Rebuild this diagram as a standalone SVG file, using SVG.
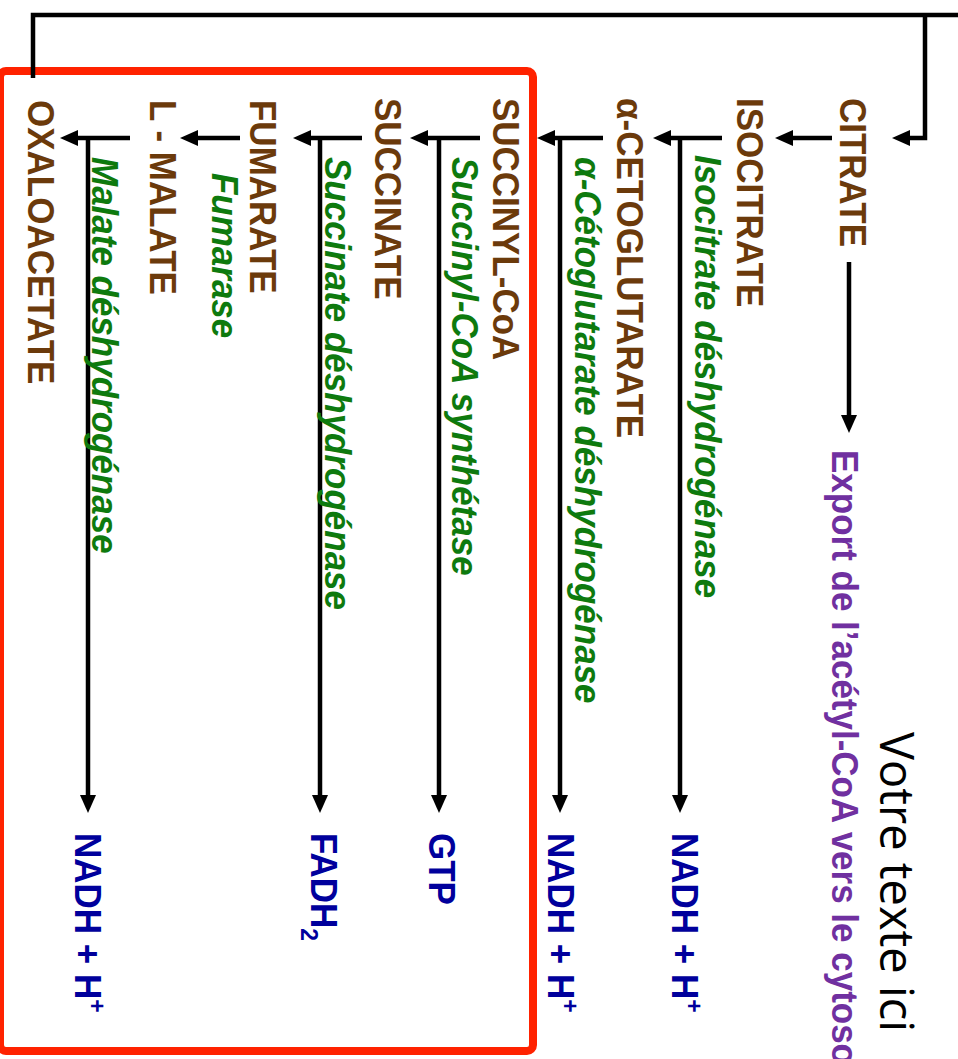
<svg xmlns="http://www.w3.org/2000/svg" width="958" height="1059" viewBox="0 0 958 1059">
<defs>
<style>
text{font-family:"Liberation Sans",Arial,sans-serif;font-weight:bold;font-size:35px}
.met{fill:#6B3A0B}
.enz{fill:#0E7A0E;font-style:italic}
.prod{fill:#00009C}
.exp{fill:#7030A0}
.note{fill:#000;font-family:"Open Sans","Noto Sans",sans-serif;font-weight:normal;font-size:47px}
.ln{fill:none;stroke:#000;stroke-width:4.5}
.arr{fill:none;stroke:#000;stroke-width:4.5;marker-end:url(#ah)}
</style>
<marker id="ah" markerUnits="userSpaceOnUse" markerWidth="18" markerHeight="18" refX="8" refY="8" orient="auto" viewBox="0 0 18 16">
<path d="M0,0 L18,8 L0,16 z" fill="#000"/>
</marker>
</defs>
<rect x="0" y="0" width="958" height="1059" fill="#fff"/>
<g id="frame">
<rect x="0" y="71" width="533" height="980" rx="6" fill="none" stroke="#FF2200" stroke-width="8"/>
</g>
<g id="connectors">
<path class="ln" d="M33,78 V15 H960"/>
<path class="arr" d="M925,15 V138 H902"/>
<path class="arr" d="M832,138 H785"/>
<path class="arr" d="M849,262 V423"/>
<path class="arr" d="M722,138 H663"/>
<path class="arr" d="M680,138 V803"/>
<path class="arr" d="M603,138 H547"/>
<path class="arr" d="M560,138 V803"/>
<path class="arr" d="M480,138 H420"/>
<path class="arr" d="M439,138 V803"/>
<path class="arr" d="M362,138 H303"/>
<path class="arr" d="M320,138 V803"/>
<path class="arr" d="M240,138 H190"/>
<path class="arr" d="M130,138 H70"/>
<path class="arr" d="M88,138 V803"/>
</g>
<g id="citrate"><text class="met" transform="translate(840 98) rotate(90) scale(1 1.08)">CITRATE</text></g>
<g id="export"><text class="exp" transform="translate(832 450) rotate(90) scale(1 1.06)">Export de l’acétyl-CoA vers le cytosol</text></g>
<g id="note"><text class="note" transform="translate(880 732) rotate(90)">Votre texte ici</text></g>
<g id="isocitrate"><text class="met" transform="translate(737 98) rotate(90) scale(1 1.08)">ISOCITRATE</text></g>
<g id="enz-isocitrate"><text class="enz" transform="translate(695 155) rotate(90) scale(1 1.06)">Isocitrate déshydrogénase</text></g>
<g id="nadh1"><text class="prod" transform="translate(672 833) rotate(90) scale(1 1.06)">NADH + H<tspan font-size="23" dy="-13">+</tspan></text></g>
<g id="cetoglutarate"><text class="met" transform="translate(617 98) rotate(90) scale(1 1.08)">α-CETOGLUTARATE</text></g>
<g id="enz-cetoglutarate"><text class="enz" transform="translate(575 157) rotate(90) scale(1 1.06)">α-Cétoglutarate déshydrogénase</text></g>
<g id="nadh2"><text class="prod" transform="translate(548 833) rotate(90) scale(1 1.06)">NADH + H<tspan font-size="23" dy="-13">+</tspan></text></g>
<g id="succinylcoa"><text class="met" transform="translate(493 98) rotate(90) scale(1 1.08)">SUCCINYL-CoA</text></g>
<g id="enz-succinylcoa"><text class="enz" transform="translate(452 157) rotate(90) scale(1 1.06)">Succinyl-CoA synthétase</text></g>
<g id="gtp"><text class="prod" transform="translate(429 833) rotate(90) scale(1 1.06)">GTP</text></g>
<g id="succinate"><text class="met" transform="translate(375 98) rotate(90) scale(1 1.08)">SUCCINATE</text></g>
<g id="enz-succinate"><text class="enz" transform="translate(325 157) rotate(90) scale(1 1.06)">Succinate déshydrogénase</text></g>
<g id="fadh2"><text class="prod" transform="translate(311 833) rotate(90) scale(1 1.06)">FADH<tspan font-size="23" dy="9">2</tspan></text></g>
<g id="fumarate"><text class="met" transform="translate(250 100) rotate(90) scale(1 1.08)">FUMARATE</text></g>
<g id="enz-fumarate"><text class="enz" transform="translate(212 173) rotate(90) scale(1 1.06)">Fumarase</text></g>
<g id="malate"><text class="met" transform="translate(150 100) rotate(90) scale(1 1.08)">L - MALATE</text></g>
<g id="enz-malate"><text class="enz" transform="translate(92 157) rotate(90) scale(1 1.06)">Malate déshydrogénase</text></g>
<g id="nadh3"><text class="prod" transform="translate(75 833) rotate(90) scale(1 1.06)">NADH + H<tspan font-size="23" dy="-13">+</tspan></text></g>
<g id="oxaloacetate"><text class="met" transform="translate(28 100) rotate(90) scale(1 1.08)">OXALOACETATE</text></g>
</svg>
